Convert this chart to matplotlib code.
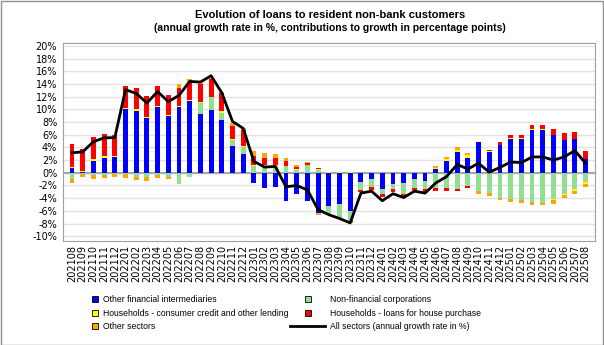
import numpy as np
import matplotlib
matplotlib.use("Agg")
import matplotlib.pyplot as plt
from matplotlib.lines import Line2D
from matplotlib.patches import Rectangle

# ---- data ----
months = ["202108", "202109", "202110", "202111", "202112",
          "202201", "202202", "202203", "202204", "202205", "202206",
          "202207", "202208", "202209", "202210", "202211", "202212",
          "202301", "202302", "202303", "202304", "202305", "202306",
          "202307", "202308", "202309", "202310", "202311", "202312",
          "202401", "202402", "202403", "202404", "202405", "202406",
          "202407", "202408", "202409", "202410", "202411", "202412",
          "202501", "202502", "202503", "202504", "202505", "202506",
          "202507", "202508"]

ofi = [0.8, 0.1, 1.9, 2.35, 2.5,
       10.0, 9.75, 8.65, 10.3, 8.9, 10.4,
       11.3, 9.2, 9.9, 8.3, 4.25, 2.9,
       -1.6, -2.4, -2.2, -4.5, -3.4, -4.4,
       -6.4, -5.3, -4.9, -6.0, -1.4, -0.9,
       -2.5, -1.8, -1.6, -1.05, -1.3, 0.6,
       1.8, 3.35, 2.4, 4.85, 3.35, 4.35,
       5.4, 5.4, 6.8, 6.8, 5.9, 5.15,
       5.25, 2.25]

nfc = [-1.05, -0.2, -0.35, -0.35, -0.25,
       -0.25, -0.6, -0.7, -0.4, -0.6, -1.7,
       -0.6, 1.8, 2.0, 1.2, 0.95, 1.1,
       1.1, 1.1, 1.0, 1.0, 0.5, 1.15,
       0.5, -1.3, -2.2, -1.6, -1.3, -1.4,
       -0.9, -0.8, -1.7, -1.3, -1.3, -2.4,
       -2.4, -2.5, -2.1, -2.9, -3.2, -3.9,
       -4.2, -4.3, -4.6, -4.7, -4.2, -3.4,
       -2.6, -1.4]

cons = [0.15, 0.2, 0.2, 0.25, 0.2,
        0.2, 0.25, 0.2, 0.2, 0.2, 0.1,
        0.1, 0.1, 0.1, 0.2, 0.2, 0.2,
        0.2, 0.2, 0.2, 0.1, 0.1, 0.1,
        0.05, 0.1, 0.05, 0.05, 0.03, 0.03,
        0.03, 0.03, 0.03, 0.03, 0.03, 0.15,
        0.3, 0.3, 0.35, 0.05, 0.05, 0.05,
        0.05, 0.05, 0.05, 0.05, -0.1, -0.1,
        -0.3, -0.35]

house = [3.55, 3.5, 3.5, 3.45, 3.3,
         3.45, 3.4, 3.25, 3.2, 3.2, 2.8,
         2.8, 2.9, 2.8, 2.8, 2.0, 2.6,
         1.3, 1.1, 1.2, 0.8, 0.3, 0.3,
         0.15, -0.1, -0.1, -0.15, -0.3, -0.35,
         -0.35, -0.4, -0.4, -0.4, -0.4, -0.45,
         -0.4, -0.3, -0.35, 0.0, 0.25, 0.45,
         0.5, 0.5, 0.7, 0.7, 1.0, 1.15,
         1.2, 1.2]

other = [-0.55, -0.45, -0.6, -0.4, -0.35,
         -0.5, -0.55, -0.55, -0.4, -0.4, 0.7,
         0.6, 0.2, 0.2, 0.3, 0.4, 0.2,
         0.8, 0.7, 0.6, 0.4, 0.25, 0.1,
         -0.2, 0.1, -0.1, -0.15, -0.1, -0.1,
         -0.05, -0.05, -0.05, -0.05, -0.05, 0.25,
         0.4, 0.35, 0.35, -0.4, -0.4, -0.4,
         -0.35, -0.4, -0.5, -0.4, -0.6, -0.5,
         -0.4, -0.5]

all_sectors = [3.15, 3.3, 4.9, 5.5, 5.55,
               13.1, 12.5, 11.0, 12.8, 11.2, 12.2,
               14.4, 14.3, 15.3, 12.6, 8.1, 7.0,
               1.8, 0.9, 1.0, -2.2, -2.0, -2.7,
               -5.8, -6.6, -7.2, -7.9, -3.2, -2.9,
               -4.4, -3.3, -3.9, -2.9, -3.2, -1.6,
               -0.6, 1.3, 0.6, 1.5, 0.1, 0.85,
               1.7, 1.6, 2.5, 2.5, 2.0, 2.5,
               3.5, 1.5]

series = [
    ("Other financial intermediaries", ofi, "#0000ff"),
    ("Non-financial corporations", nfc, "#90e090"),
    ("Households - consumer credit and other lending", cons, "#ffff00"),
    ("Households - loans for house purchase", house, "#ff0000"),
    ("Other sectors", other, "#ffa500"),
]

W, H = 604, 345
fig = plt.figure(figsize=(W / 100, H / 100), dpi=100)
ax = fig.add_axes([62.7 / W, 1 - 240.7 / H, (595 - 62.7) / W, (240.7 - 42.7) / H])

x = np.arange(len(months))
pos_base = np.zeros(len(months))
neg_base = np.zeros(len(months))
for name, vals, col in series:
    v = np.array(vals)
    base = np.where(v >= 0, pos_base, neg_base)
    ax.bar(x, v, 0.45, bottom=base, color=col, linewidth=0, zorder=3)
    pos_base = pos_base + np.where(v >= 0, v, 0)
    neg_base = neg_base + np.where(v < 0, v, 0)

ax.plot(x, all_sectors, color="black", lw=2, zorder=5)

ax.set_xlim(-0.87, len(months) - 0.12)
ax.set_ylim(-10.7, 20.5)
ax.set_yticks(range(-10, 21, 2))
ax.set_yticklabels([f"{t}%" for t in range(-10, 21, 2)])
ax.set_xticks(x)
ax.set_xticklabels(months, rotation=90)
ax.tick_params(axis="both", length=0, labelsize=7)
ax.tick_params(axis="y", pad=4)
ax.tick_params(axis="x", pad=3)
ax.grid(axis="y", color="#e2e2e2", lw=1, zorder=0)
ax.axhline(0, color="#a8a8a8", lw=1.5, zorder=2)
for s in ax.spines.values():
    s.set_color("#a0a0a0")

fig.text(0.546, 1 - 15 / H, "Evolution of loans to resident non-bank customers",
         ha="center", va="center", fontsize=8.0, fontweight="bold", family="Liberation Sans")
fig.text(0.546, 1 - 28 / H, "(annual growth rate in %, contributions to growth in percentage points)",
         ha="center", va="center", fontsize=7.5, fontweight="bold", family="Liberation Sans")

def sq(col):
    return Line2D([], [], marker="s", color=col, markeredgecolor="black",
                  markeredgewidth=0.6, markersize=4.8, linestyle="none")

lab = [s[0] for s in series]
col = [s[2] for s in series]
lprops = dict(frameon=False, borderpad=0, borderaxespad=0, labelspacing=0.55,
              prop={"family": "Liberation Sans", "size": 6.2})
fig.legend([sq(col[0]), sq(col[2]), sq(col[4])], [lab[0], lab[2], lab[4]],
           loc="upper left", bbox_to_anchor=(91 / W, 1 - 295 / H),
           handlelength=1.0, handletextpad=0.4, **lprops)
fig.legend([sq(col[1]), sq(col[3]), Line2D([], [], color="black", lw=2)],
           [lab[1], lab[3], "All sectors (annual growth rate in %)"],
           loc="upper left", bbox_to_anchor=(290 / W, 1 - 295 / H),
           handlelength=4.1, handletextpad=0.55, **lprops)

fig.patches.append(Rectangle((0.5 / W, 0.5 / H), 1 - 1.5 / W, 1 - 1.5 / H,
                             transform=fig.transFigure, fill=False,
                             edgecolor="#909090", lw=1))

fig.savefig("out.png", dpi=100)
